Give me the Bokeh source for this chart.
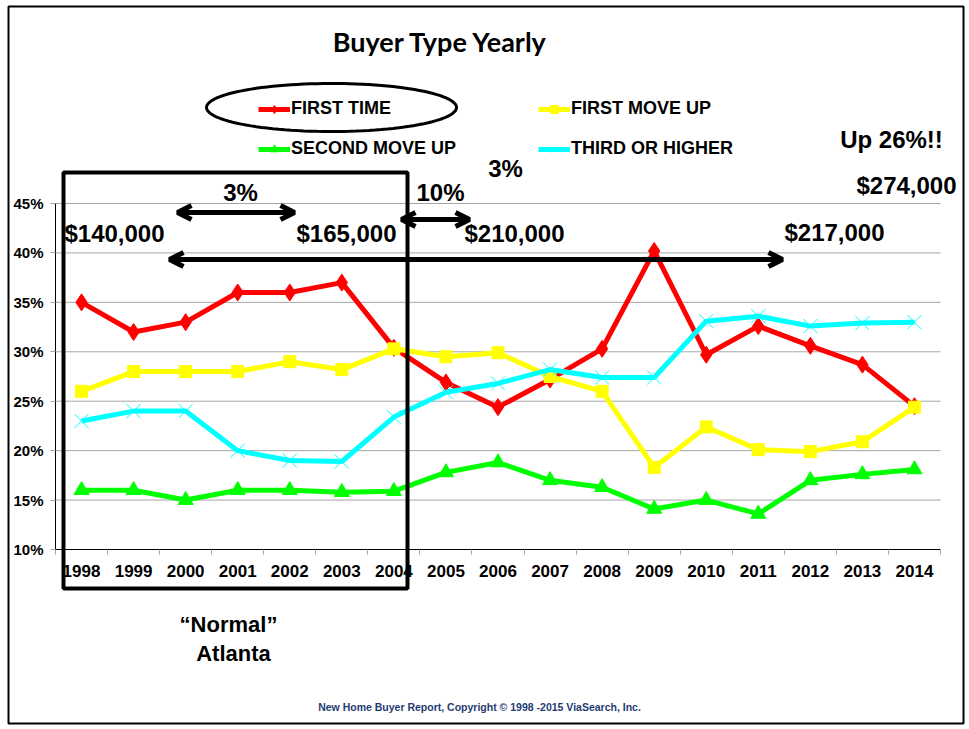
import numpy as np
from bokeh.plotting import figure
from bokeh.models import (Label, Arrow, OpenHead, PolyAnnotation, Legend, LegendItem,
                          FixedTicker, PrintfTickFormatter, Range1d)
from bokeh.embed import file_html
from bokeh.resources import INLINE

# ---------------- data ----------------
years = ["1998", "1999", "2000", "2001", "2002", "2003", "2004", "2005", "2006",
         "2007", "2008", "2009", "2010", "2011", "2012", "2013", "2014"]
first_time = [35.0, 32.0, 33.0, 36.0, 36.0, 37.0, 30.4, 26.9, 24.4, 27.2, 30.3,
              40.2, 29.7, 32.6, 30.6, 28.7, 24.5]
first_move_up = [26.0, 28.0, 28.0, 28.0, 29.0, 28.2, 30.3, 29.5, 29.9, 27.5, 26.0,
                 18.3, 22.4, 20.1, 19.9, 20.9, 24.4]
second_move_up = [16.0, 16.0, 15.0, 16.0, 16.0, 15.8, 15.9, 17.8, 18.8, 17.0, 16.3,
                  14.1, 15.0, 13.6, 17.0, 17.6, 18.1]
third_or_higher = [23.0, 24.0, 24.0, 20.0, 19.0, 18.9, 23.4, 25.9, 26.8, 28.2, 27.4,
                   27.4, 33.1, 33.6, 32.6, 32.9, 33.0]
y_ticks = [10, 15, 20, 25, 30, 35, 40, 45]
series_names = ["FIRST TIME", "FIRST MOVE UP", "SECOND MOVE UP", "THIRD OR HIGHER"]

# ---------------- layout (page pixels) ----------------
W, H = 969, 729
FL, FR, FT, FB = 55, 940, 203, 549   # plot area edges on the page
NX = len(years)
YMIN, YMAX = y_ticks[0], y_ticks[-1]
SX = NX / (FR - FL)
SY = (YMAX - YMIN) / (FB - FT)

def X(px):
    return -0.5 + (px - FL) * SX

def Y(py):
    return YMIN + (FB - py) * SY

p = figure(width=W, height=H, output_backend="svg", toolbar_location=None, title=None,
           x_range=Range1d(X(0), X(W)), y_range=Range1d(Y(H), Y(0)),
           min_border_left=0, min_border_right=0, min_border_top=0, min_border_bottom=0)
p.outline_line_color = None
p.background_fill_color = "white"
p.border_fill_color = "white"

# axes drawn at the plot-area edges
xs = list(range(NX))
p.xaxis.fixed_location = YMIN
p.xaxis.bounds = (-0.5, NX - 0.5)
p.xaxis.ticker = FixedTicker(ticks=xs, minor_ticks=[i - 0.5 for i in range(NX + 1)])
p.xaxis.major_label_overrides = {i: y for i, y in enumerate(years)}
p.xaxis.major_tick_out = 0
p.xaxis.major_tick_in = 0
p.xaxis.minor_tick_out = 5
p.xaxis.minor_tick_in = 0
p.xaxis.minor_tick_line_color = "#A6A6A6"
p.xaxis.major_label_standoff = 10
p.xaxis.major_label_text_font = "Liberation Sans"
p.xaxis.major_label_text_font_style = "bold"
p.xaxis.major_label_text_font_size = "17px"
p.xaxis.major_label_text_color = "black"
p.xaxis.axis_line_color = "black"

p.yaxis.fixed_location = -0.5
p.yaxis.bounds = (YMIN, YMAX)
p.yaxis.ticker = FixedTicker(ticks=y_ticks, minor_ticks=[])
p.yaxis.formatter = PrintfTickFormatter(format="%d%%")
p.yaxis.major_tick_out = 5
p.yaxis.major_tick_in = 0
p.yaxis.major_tick_line_color = "#A6A6A6"
p.yaxis.major_label_standoff = 7
p.yaxis.major_label_text_font = "Liberation Sans"
p.yaxis.major_label_text_font_style = "bold"
p.yaxis.major_label_text_font_size = "15px"
p.yaxis.major_label_text_color = "black"
p.yaxis.axis_line_color = "black"

p.xgrid.visible = False
p.ygrid.visible = False
# horizontal gridlines across the plot area only
p.segment(x0=-0.5, x1=NX - 0.5, y0=y_ticks[1:], y1=y_ticks[1:],
          line_color="#A6A6A6", line_width=1)

# series
specs = [
    (first_time, "#FF0000", "diamond", 17, 1),
    (first_move_up, "#FFFF00", "square", 12, 1),
    (second_move_up, "#00FF00", "triangle", 15, 1),
    (third_or_higher, "#00FFFF", "x", 20, 1),
]
rends = []
for vals, col, mk, sz, mlw in specs:
    rl = p.line(xs, vals, line_color=col, line_width=5)
    rs = p.scatter(xs, vals, marker=mk, size=sz, fill_color=col, line_color=col, line_width=mlw)
    rends.append([rl, rs])

# legends (two columns)
ROW_H, ROW_GAP = 20, 19
def make_legend(idx, left, top):
    lg_h = len(idx) * ROW_H + (len(idx) - 1) * ROW_GAP
    lg = Legend(items=[LegendItem(label=series_names[i], renderers=rends[i]) for i in idx],
                location=(left, H - top - lg_h), orientation="vertical",
                border_line_color=None, background_fill_alpha=0, padding=0, margin=0,
                spacing=ROW_GAP, glyph_width=32, glyph_height=ROW_H, label_height=ROW_H,
                label_standoff=1, label_text_font="Liberation Sans",
                label_text_color="black",
                label_text_font_style="bold", label_text_font_size="18px")
    p.add_layout(lg)

make_legend([0, 2], 258, 100)
make_legend([1, 3], 538, 100)

# annotations
def lab(text, px, py, size, font="Liberation Sans", color="black", align="center"):
    p.add_layout(Label(x=X(px), y=Y(py), text=text, text_align=align, text_baseline="middle",
                       text_font=font, text_font_style="bold", text_font_size=size,
                       text_color=color))

lab("Buyer Type Yearly", 440, 41, "27px", font="Lato")
lab("3%", 505, 168, "24px")
lab("Up 26%!!", 891, 139, "24px")
lab("$274,000", 906, 185, "24px")
lab("3%", 240, 192, "24px")
lab("10%", 440, 192, "24px")
lab("$140,000", 114, 233, "24px")
lab("$165,000", 346, 233, "24px")
lab("$210,000", 514, 233, "24px")
lab("$217,000", 834, 232, "24px")
lab("\u201cNormal\u201d", 228, 624, "22px")
lab("Atlanta", 233, 653, "22px")
lab("New Home Buyer Report, Copyright \u00a9 1998 -2015 ViaSearch, Inc.", 479, 706, "10.5px",
    color="#1F3B73")

def arrow(x0, x1, py, lw=5, hs=14):
    p.add_layout(Arrow(start=OpenHead(size=hs, line_width=lw), end=OpenHead(size=hs, line_width=lw),
                       x_start=X(x0), y_start=Y(py), x_end=X(x1), y_end=Y(py),
                       line_width=lw, line_color="black"))

arrow(177, 294, 212)
arrow(401, 469, 219)
arrow(169, 782, 259)

def poly(pxs, pys, lw):
    p.add_layout(PolyAnnotation(xs=[X(v) for v in pxs], ys=[Y(v) for v in pys],
                                fill_alpha=0, line_color="black", line_width=lw, line_alpha=1))

# black box around 1998-2004
poly([63, 407, 407, 63], [172, 172, 588, 588], 4)
# ellipse around FIRST TIME
t = np.linspace(0, 2 * np.pi, 120)
poly(list(331 + 125 * np.cos(t)), list(107 + 24 * np.sin(t)), 3)
# outer slide border
poly([8, 963, 963, 8], [6, 6, 723, 723], 2)

open("out.html", "w").write(file_html(p, INLINE))
